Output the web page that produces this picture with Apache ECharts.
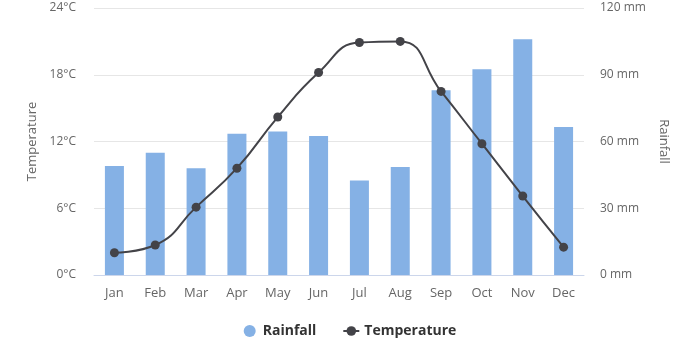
<!DOCTYPE html>
<html>
<head>
<meta charset="utf-8">
<script src="https://cdn.jsdelivr.net/npm/echarts@6/dist/echarts.min.js"></script>
<style>
  html, body { margin: 0; padding: 0; background: #fff; }
  #chart { width: 700px; height: 350px; }
</style>
</head>
<body>
<div id="chart"></div>
<script>
// data
const months = ['Jan', 'Feb', 'Mar', 'Apr', 'May', 'Jun', 'Jul', 'Aug', 'Sep', 'Oct', 'Nov', 'Dec'];
const rainfall = [49, 55, 48, 63.5, 64.5, 62.5, 42.5, 48.5, 83, 92.5, 106, 66.5];
const temperature = [2.0, 2.7, 6.1, 9.6, 14.2, 18.2, 20.9, 21.0, 16.5, 11.8, 7.1, 2.5];

const chart = echarts.init(document.getElementById('chart'));
const labelColor = '#666666';
chart.setOption({
  animation: false,
  textStyle: { fontFamily: 'Open Sans' },
  grid: { left: 94, right: 116, top: 8, bottom: 75 },
  legend: {
    bottom: 7,
    itemGap: 26,
    itemWidth: 16,
    itemHeight: 12,
    textStyle: { fontSize: 14, fontWeight: 'bold', color: '#333333', fontFamily: 'Open Sans' },
    data: [
      { name: 'Rainfall', icon: 'circle' },
      { name: 'Temperature' }
    ]
  },
  xAxis: {
    type: 'category',
    data: months,
    axisLine: { lineStyle: { color: '#ccd6eb' } },
    axisTick: { show: false },
    axisLabel: { color: labelColor, fontSize: 13, margin: 12 }
  },
  yAxis: [
    {
      type: 'value',
      min: 0, max: 24, interval: 6,
      name: 'Temperature',
      nameLocation: 'middle',
      nameRotate: 90,
      nameGap: 55,
      nameTextStyle: { color: labelColor, fontSize: 13 },
      axisLabel: { formatter: '{value}°C', color: labelColor, fontSize: 12, margin: 18 },
      splitLine: { lineStyle: { color: '#e6e6e6' } }
    },
    {
      type: 'value',
      min: 0, max: 120, interval: 30,
      name: 'Rainfall',
      nameLocation: 'middle',
      nameRotate: -90,
      nameGap: 73,
      nameTextStyle: { color: labelColor, fontSize: 13 },
      axisLabel: { formatter: '{value} mm', color: labelColor, fontSize: 12, margin: 16 },
      splitLine: { show: false }
    }
  ],
  series: [
    {
      name: 'Rainfall',
      type: 'bar',
      yAxisIndex: 1,
      data: rainfall,
      barWidth: 19,
      itemStyle: { color: '#85b1e5' }
    },
    {
      name: 'Temperature',
      type: 'line',
      yAxisIndex: 0,
      data: temperature,
      smooth: true,
      symbol: 'circle',
      symbolSize: 9,
      lineStyle: { color: '#434348', width: 2 },
      itemStyle: { color: '#434348' }
    }
  ]
});
</script>
</body>
</html>
